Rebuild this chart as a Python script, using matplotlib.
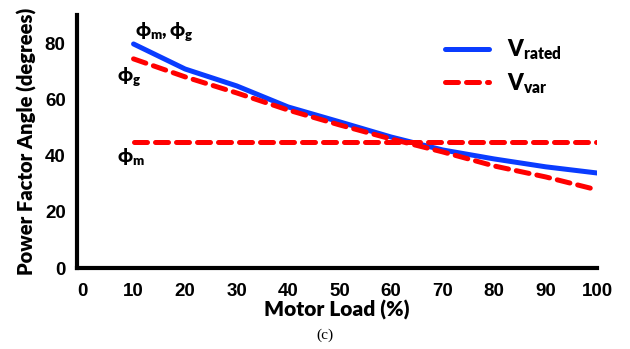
import matplotlib
matplotlib.use("Agg")
import matplotlib.pyplot as plt

# values
load = [10, 20, 30, 40, 50, 60, 70, 80, 90, 100]
phi_rated = [79.7, 70.8, 64.8, 57.3, 52.0, 46.6, 42.0, 38.8, 36.0, 33.8]
phi_g_var = [74.4, 68.0, 62.3, 56.2, 50.9, 45.9, 41.3, 36.3, 32.4, 27.8]
phi_m_var = [45, 45, 45, 45, 45, 45, 45, 45, 45, 45]

xticks = [0, 10, 20, 30, 40, 50, 60, 70, 80, 90, 100]
yticks = [0, 20, 40, 60, 80]

plt.rcParams['mathtext.fontset'] = 'custom'
plt.rcParams['mathtext.rm'] = 'Lato:bold'
plt.rcParams['mathtext.bf'] = 'Lato:heavy'
plt.rcParams['mathtext.it'] = 'Lato:bold'

fig = plt.figure(figsize=(6.3, 3.49), dpi=100)
ax = fig.add_axes([0.122, 0.232, 0.826, 0.725])

ax.plot(load, phi_rated, color='#0a3cff', linewidth=3.6, solid_capstyle='round',
        label=r'$\mathbf{V_{rated}}$')
ax.plot(load, phi_g_var, color='#ff0000', linewidth=3.6, linestyle=(0, (2.6, 1.6)),
        dash_capstyle='round', label=r'$\mathbf{V_{var}}$')
ax.plot(load, phi_m_var, color='#ff0000', linewidth=3.6, linestyle=(0, (2.6, 1.6)),
        dash_capstyle='round')

ax.set_xlim(-1, 100)
ax.set_ylim(0, 90)
ax.set_xticks(xticks)
ax.set_yticks(yticks)
ax.tick_params(axis='y', length=0, pad=8)
ax.tick_params(axis='x', length=0, pad=11)
for lab in ax.get_xticklabels() + ax.get_yticklabels():
    lab.set_fontfamily(['Liberation Sans Narrow', 'Liberation Sans'])
    lab.set_fontweight('bold')
    lab.set_fontsize(13.5)

for side in ['top', 'right']:
    ax.spines[side].set_visible(False)
for side in ['left', 'bottom']:
    ax.spines[side].set_linewidth(3)

ax.set_xlabel('Motor Load (%)', fontfamily='Lato', fontweight='heavy', fontsize=15, labelpad=0)
ax.set_ylabel('Power Factor Angle (degrees)', fontfamily='Lato', fontweight='heavy',
              fontsize=14.5, labelpad=6)

ax.text(10.3, 84, r'$\mathbf{\phi_m,\phi_g}$', fontsize=13.5, va='center', ha='left')
ax.text(6.8, 68, r'$\mathbf{\phi_g}$', fontsize=13.5, va='center', ha='left')
ax.text(6.8, 39.5, r'$\mathbf{\phi_m}$', fontsize=13.5, va='center', ha='left')

ax.legend(loc='upper right', bbox_to_anchor=(0.97, 0.99), frameon=False, fontsize=16,
          handlelength=2.0, handletextpad=0.8, labelspacing=0.4)

fig.text(0.515, 0.03, '(c)', fontfamily='Liberation Serif', fontsize=11, ha='center')

fig.savefig('out.png', dpi=100)
